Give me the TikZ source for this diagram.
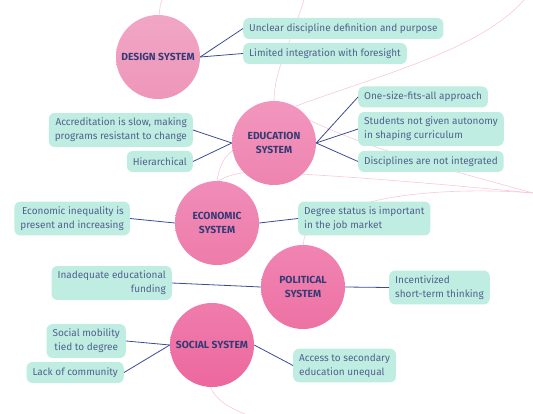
\documentclass[tikz,border=0pt]{standalone}
\usepackage{fontspec}
\setmainfont{Fira Sans}
\definecolor{mint}{RGB}{191,237,225}
\definecolor{boxtext}{RGB}{82,96,142}
\definecolor{navy}{RGB}{52,58,118}
\definecolor{connc}{RGB}{58,76,150}
\definecolor{faint}{RGB}{248,200,216}
\tikzset{
  box/.style={fill=mint, rounded corners=6pt, text=boxtext, font=\fontsize{10}{14}\selectfont, inner xsep=6pt, inner ysep=5pt, minimum height=21pt},
  sys/.style={circle, minimum size=84pt, inner sep=0pt, text=navy, font=\bfseries\fontsize{10.3}{13.5}\selectfont, align=center},
  link/.style={draw=connc, line width=0.8pt},
  bg/.style={draw=faint, line width=0.6pt}
}
\begin{document}
\begin{tikzpicture}[x=1pt,y=-1pt]
\useasboundingbox (0,0) rectangle (533,414);
% background faint curves
\draw[bg] (162,0) .. controls (160,6) .. (159,16);
\draw[bg] (304,0) .. controls (290,45) and (274,70) .. (274,102);
\draw[bg] (524,0) .. controls (480,50) and (380,75) .. (296,106);
\draw[bg] (305,118) .. controls (370,150) and (450,170) .. (533,193);
\draw[bg] (300,174) .. controls (400,180) and (480,188) .. (533,193);
\draw[bg] (360,205) .. controls (400,192) and (470,188) .. (533,193);
\draw[bg] (307,232) .. controls (304,238) .. (303,247);
\draw[bg] (217,182) .. controls (219,165) and (225,155) .. (234,150);
\draw[bg] (217,182) .. controls (225,176) and (235,174) .. (248,172);
\draw[bg] (210,386) .. controls (215,400) and (230,408) .. (245,414);
% systems
\node[sys, top color={rgb,255:red,241;green,166;blue,197}, bottom color={rgb,255:red,238;green,150;blue,186}] (design) at (158,57) {DESIGN SYSTEM};
\node[sys, top color={rgb,255:red,242;green,150;blue,190}, bottom color={rgb,255:red,238;green,132;blue,176}] (edu) at (274,143) {EDUCATION\\SYSTEM};
\node[sys, top color={rgb,255:red,240;green,140;blue,184}, bottom color={rgb,255:red,238;green,124;blue,170}] (eco) at (217,223) {ECONOMIC\\SYSTEM};
\node[sys, top color={rgb,255:red,240;green,132;blue,178}, bottom color={rgb,255:red,237;green,114;blue,164}] (pol) at (303,287) {POLITICAL\\SYSTEM};
\node[sys, top color={rgb,255:red,240;green,124;blue,172}, bottom color={rgb,255:red,236;green,104;blue,158}] (soc) at (212,345) {SOCIAL SYSTEM};
% boxes
\node[box, anchor=west] (b1) at (243,28.5) {Unclear discipline definition and purpose};
\node[box, anchor=west] (b2) at (243,53.5) {Limited integration with foresight};
\node[box, anchor=west] (b3) at (358,97) {One-size-fits-all approach};
\node[box, anchor=west, align=left] (b4) at (358,129) {Students not given autonomy\\in shaping curriculum};
\node[box, anchor=west] (b5) at (358,161.5) {Disciplines are not integrated};
\node[box, anchor=east, align=right] (b6) at (193,130) {Accreditation is slow, making\\programs resistant to change};
\node[box, anchor=east] (b7) at (193,161.5) {Hierarchical};
\node[box, anchor=east, align=right] (b8) at (130,218.5) {Economic inequality is\\present and increasing};
\node[box, anchor=west, align=left] (b9) at (298,218.5) {Degree status is important\\in the job market};
\node[box, anchor=east, align=right] (b10) at (172,283) {Inadequate educational\\funding};
\node[box, anchor=west, align=left] (b11) at (389,287.5) {Incentivized\\short-term thinking};
\node[box, anchor=east, align=center] (b12) at (126,341) {Social mobility\\tied to degree};
\node[box, anchor=east] (b13) at (124,372.5) {Lack of community};
\node[box, anchor=west, align=left] (b14) at (293,365.5) {Access to secondary\\education unequal};
% connectors
\draw[link] (design.east) -- (b1.west);
\draw[link] (design.east) -- (b2.west);
\draw[link] (edu.east) -- (b3.west);
\draw[link] (edu.east) -- (b4.west);
\draw[link] (edu.east) -- (b5.west);
\draw[link] (edu.west) -- (b6.east);
\draw[link] (edu.west) -- (b7.east);
\draw[link] (eco.west) -- (b8.east);
\draw[link] (eco.east) -- (b9.west);
\draw[link] (pol.west) -- (b10.east);
\draw[link] (pol.east) -- (b11.west);
\draw[link] (soc.west) -- (b12.east);
\draw[link] (soc.west) -- (b13.east);
\draw[link] (soc.east) -- (b14.west);
\end{tikzpicture}
\end{document}
